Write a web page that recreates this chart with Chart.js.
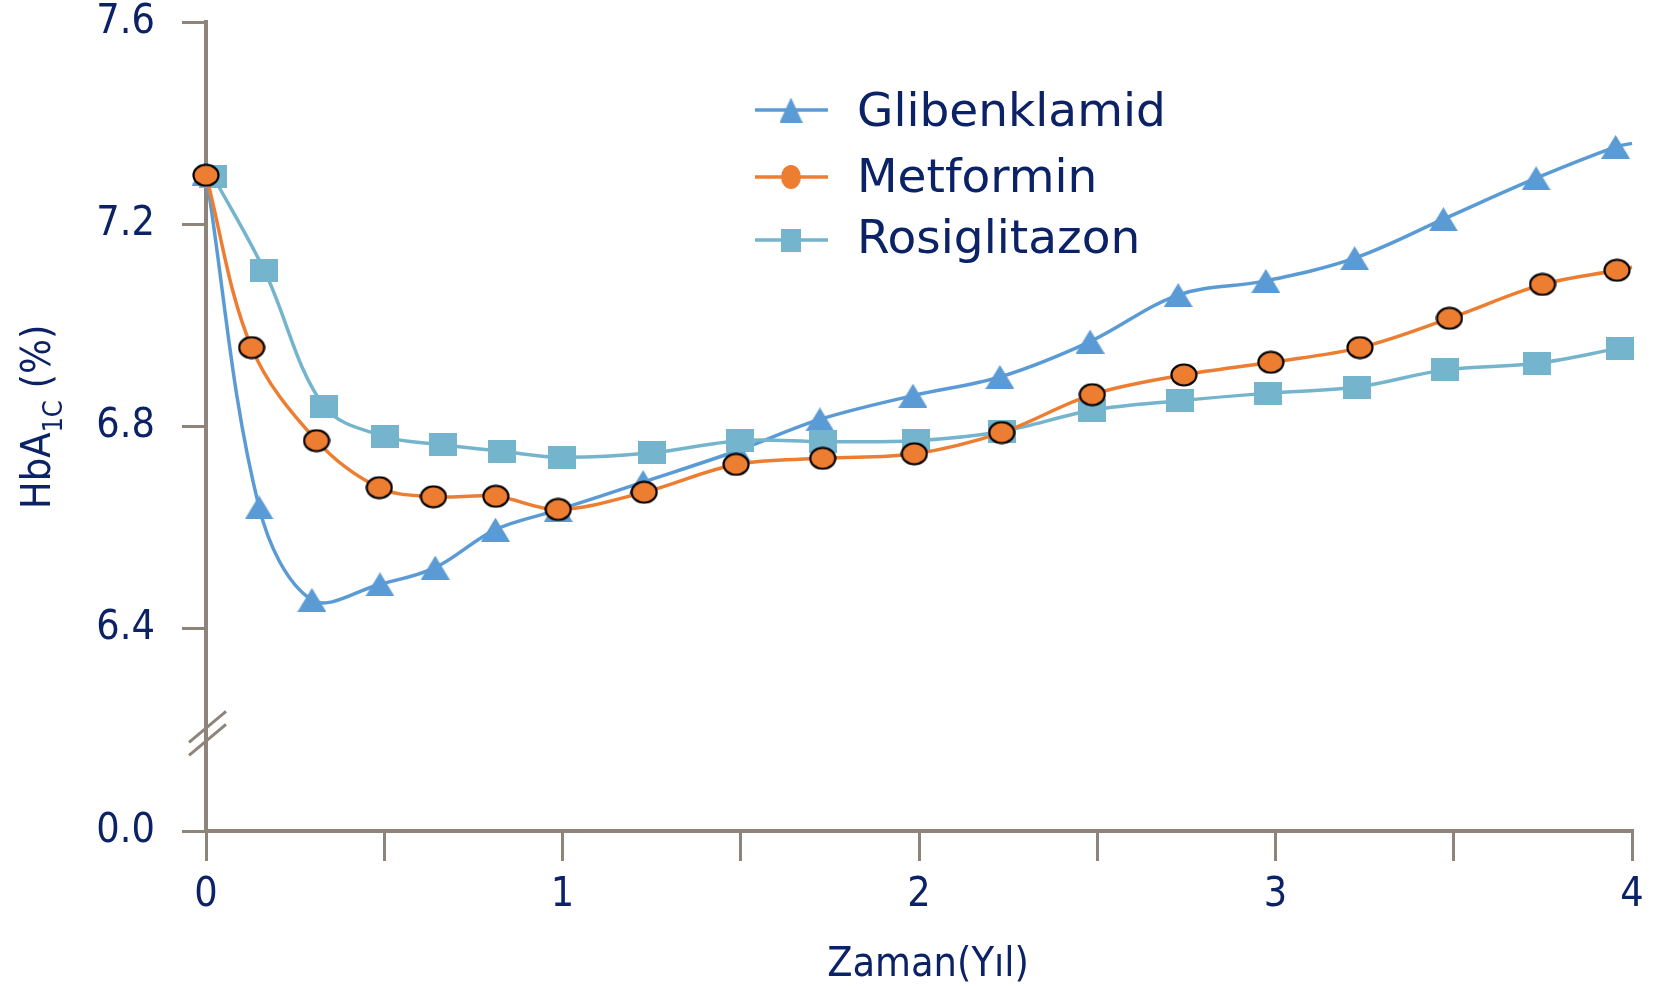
<!DOCTYPE html>
<html lang="tr">
<head>
<meta charset="UTF-8">
<title>HbA1C - Zaman</title>
<script src="https://cdn.jsdelivr.net/npm/chart.js"></script>
<style>
    body { margin: 0; background: #fff; }
    .wrap { width: 1653px; height: 986px; position: relative; }
</style>
</head>
<body>
<div class="wrap"><canvas id="hba1cChart"></canvas></div>
<script>
// values (x = years, y = HbA1C %)
const glibX = [0, 0.149, 0.297, 0.488, 0.643, 0.812, 0.988, 1.226, 1.49, 1.722, 1.983, 2.227, 2.48, 2.727, 2.973, 3.222, 3.471, 3.731, 3.954, 4.0];
const glibY = [7.30, 6.64, 6.457, 6.488, 6.521, 6.596, 6.635, 6.69, 6.752, 6.814, 6.861, 6.898, 6.968, 7.06, 7.088, 7.133, 7.21, 7.291, 7.353, 7.36];
const metX = [0, 0.128, 0.31, 0.486, 0.638, 0.813, 0.988, 1.229, 1.487, 1.73, 1.987, 2.232, 2.486, 2.743, 2.987, 3.237, 3.488, 3.749, 3.958, 4.0];
const metY = [7.297, 6.956, 6.772, 6.679, 6.661, 6.662, 6.636, 6.670, 6.725, 6.737, 6.746, 6.788, 6.863, 6.902, 6.927, 6.956, 7.014, 7.081, 7.109, 7.115];
const rosiX = [0.02, 0.164, 0.331, 0.503, 0.664, 0.829, 0.998, 1.25, 1.498, 1.732, 1.992, 2.232, 2.486, 2.732, 2.98, 3.228, 3.475, 3.734, 3.966];
const rosiY = [7.295, 7.108, 6.840, 6.780, 6.764, 6.751, 6.739, 6.748, 6.772, 6.770, 6.772, 6.790, 6.832, 6.851, 6.866, 6.878, 6.912, 6.925, 6.955];

const seriesNames = ['Glibenklamid', 'Metformin', 'Rosiglitazon'];
const yTickValues = [6.0, 6.4, 6.8, 7.2, 7.6];   // 6.0 stands for the 0.0 below the axis break
const yTickLabels = ['0.0', '6.4', '6.8', '7.2', '7.6'];
const xTickLabels = ['0', '1', '2', '3', '4'];

const FONT = '"DejaVu Sans", Verdana, sans-serif';
const FONT_NARROW = '"DejaVu Sans Condensed", "DejaVu Sans", sans-serif';
const TEXT = '#0c2266';
const AXIS = '#8e8479';
const BLUE = '#5b9bd5';
const ORANGE = '#ed7d31';
const TEAL = '#74b5cd';

// marker images (Excel-like, centered in their box)
function makeMarker(w, h, draw) {
    const c = document.createElement('canvas');
    c.width = w; c.height = h;
    draw(c.getContext('2d'), w, h);
    return c;
}
function triangle(w, h, color) {
    return makeMarker(w, h, (g) => {
        g.fillStyle = color;
        g.beginPath(); g.moveTo(0, h); g.lineTo(w / 2, 0); g.lineTo(w, h); g.closePath(); g.fill();
    });
}
function ellipse(w, h, color, border) {
    return makeMarker(w, h, (g) => {
        g.fillStyle = color;
        g.beginPath(); g.ellipse(w / 2, h / 2, w / 2 - (border ? 1.5 : 0), h / 2 - (border ? 1.5 : 0), 0, 0, Math.PI * 2);
        g.fill();
        if (border) { g.strokeStyle = '#000'; g.lineWidth = 2.2; g.stroke(); }
    });
}
function square(w, h, color) {
    return makeMarker(w, h, (g) => { g.fillStyle = color; g.fillRect(0, 0, w, h); });
}

const triMark = triangle(29, 24, BLUE);
const cirMark = ellipse(28, 24, ORANGE, true);
const sqMark = square(28, 23, TEAL);
const legendMarks = [triangle(23, 25, BLUE), ellipse(20, 24, ORANGE, false), square(20, 23, TEAL)];

const toPoints = (xs, ys) => xs.map((x, i) => ({ x: x, y: ys[i] }));
// the last point at x = 4 only carries the line to the edge, no marker
const radii = (n, lastHidden) => Array.from({ length: n }, (_, i) => (lastHidden && i === n - 1) ? 0 : 6);

// legend + titles + axis break
const decorations = {
    id: 'decorations',
    afterDraw(chart) {
        const ctx = chart.ctx;
        const y = chart.scales.y;
        const xAxisLeft = chart.chartArea.left;

        // axis break marks
        const by = y.getPixelForValue(6.19);
        ctx.save();
        ctx.strokeStyle = AXIS;
        ctx.lineWidth = 3;
        [-6.5, 6.5].forEach(off => {
            ctx.beginPath();
            ctx.moveTo(xAxisLeft - 17, by + off + 14);
            ctx.lineTo(xAxisLeft + 20, by + off - 17);
            ctx.stroke();
        });
        ctx.restore();

        // legend
        const rows = [110, 177, 240];
        const baselines = [126, 192, 253];
        const colors = [BLUE, ORANGE, TEAL];
        ctx.save();
        ctx.font = '47px ' + FONT;
        ctx.fillStyle = TEXT;
        ctx.textBaseline = 'alphabetic';
        seriesNames.forEach((name, i) => {
            ctx.strokeStyle = colors[i];
            ctx.lineWidth = 3.5;
            ctx.beginPath(); ctx.moveTo(755, rows[i]); ctx.lineTo(828, rows[i]); ctx.stroke();
            const m = legendMarks[i];
            ctx.drawImage(m, 791 - m.width / 2, rows[i] - m.height / 2);
            ctx.fillText(name, 857, baselines[i]);
        });
        ctx.restore();

        // x title
        ctx.save();
        ctx.font = '41px ' + FONT_NARROW;
        ctx.fillStyle = TEXT;
        ctx.textAlign = 'center';
        ctx.fillText('Zaman(Yıl)', 928, 976);
        ctx.restore();

        // y title with subscript
        ctx.save();
        ctx.translate(50, 509);
        ctx.rotate(-Math.PI / 2);
        ctx.fillStyle = TEXT;
        ctx.font = '41px ' + FONT_NARROW;
        ctx.fillText('HbA', 0, 0);
        let w = ctx.measureText('HbA').width;
        ctx.font = '27px ' + FONT_NARROW;
        ctx.fillText('1C', w, 12);
        w += ctx.measureText('1C').width;
        ctx.font = '41px ' + FONT_NARROW;
        ctx.fillText(' (%)', w, 0);
        ctx.restore();
    }
};

new Chart(document.getElementById('hba1cChart'), {
    type: 'line',
    data: {
        datasets: [
            {
                label: seriesNames[1], data: toPoints(metX, metY), order: 0,
                borderColor: ORANGE, borderWidth: 3.5, tension: 0.35,
                pointStyle: cirMark, pointRadius: radii(metX.length, true), clip: false
            },
            {
                label: seriesNames[2], data: toPoints(rosiX, rosiY), order: 1,
                borderColor: TEAL, borderWidth: 3.5, tension: 0.35,
                pointStyle: sqMark, pointRadius: radii(rosiX.length, false), clip: false
            },
            {
                label: seriesNames[0], data: toPoints(glibX, glibY), order: 2,
                borderColor: BLUE, borderWidth: 3.5, tension: 0.35,
                pointStyle: triMark, pointRadius: radii(glibX.length, true), clip: false
            }
        ]
    },
    options: {
        responsive: true,
        maintainAspectRatio: false,
        animation: false,
        events: [],
        layout: { padding: { top: 22, right: 21, left: 0, bottom: 0 } },
        plugins: { legend: { display: false }, tooltip: { enabled: false } },
        scales: {
            x: {
                type: 'linear', min: 0, max: 4,
                afterBuildTicks: (s) => { s.ticks = [0, 0.5, 1, 1.5, 2, 2.5, 3, 3.5, 4].map(v => ({ value: v })); },
                afterFit: (s) => { s.height = 155; s.paddingLeft = 0; s.paddingRight = 0; },
                ticks: {
                    autoSkip: false, maxRotation: 0, padding: 10,
                    color: TEXT, font: { family: FONT_NARROW, size: 41 },
                    callback: (v) => Number.isInteger(v) ? xTickLabels[v] : ''
                },
                grid: { drawOnChartArea: false, color: AXIS, lineWidth: 3, tickLength: 30 },
                border: { color: AXIS, width: 4 }
            },
            y: {
                type: 'linear', min: 6.0, max: 7.6,
                afterBuildTicks: (s) => { s.ticks = yTickValues.map(v => ({ value: v })); },
                afterFit: (s) => { s.width = 206; s.paddingTop = 0; s.paddingBottom = 0; },
                ticks: {
                    autoSkip: false, padding: 27,
                    color: TEXT, font: { family: FONT_NARROW, size: 41 },
                    callback: (v) => yTickLabels[yTickValues.findIndex(t => Math.abs(t - v) < 1e-6)]
                },
                grid: { drawOnChartArea: false, color: AXIS, lineWidth: 3, tickLength: 24 },
                border: { color: AXIS, width: 4 }
            }
        }
    },
    plugins: [decorations]
});
</script>
</body>
</html>
